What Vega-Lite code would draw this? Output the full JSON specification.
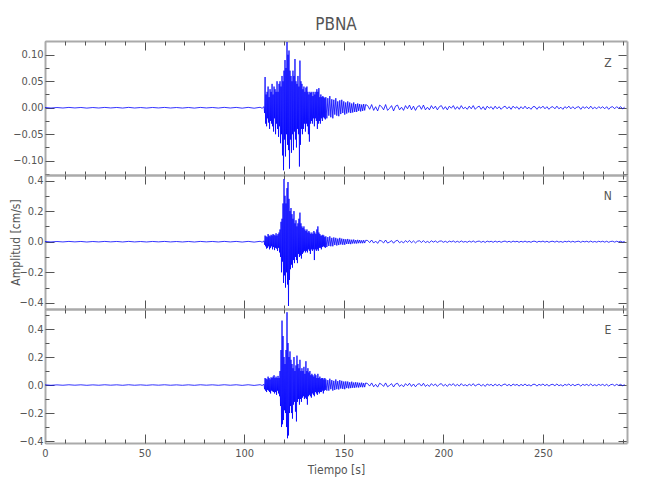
{
"$schema":"https://vega.github.io/schema/vega-lite/v6.json",
"autosize":{"type":"pad"},
"padding":{"left":8,"top":15,"right":10,"bottom":10},
"background":"white",
"title":{"text":"PBNA","fontSize":17,"font":"DejaVu Sans Condensed, Liberation Sans Narrow, DejaVu Sans","fontWeight":"normal","color":"#555","anchor":"middle","frame":"group","offset":7},
"config":{"view":{"stroke":null},"axis":{"grid":false,"domainColor":"#aaaaaa","domainWidth":2,"tickColor":"#555","tickWidth":1,"labelFont":"DejaVu Sans Condensed, Liberation Sans Narrow, DejaVu Sans","labelFontSize":11,"labelColor":"#555","labelPadding":2,"labelFlush":false,"titleFont":"DejaVu Sans Condensed, Liberation Sans Narrow, DejaVu Sans","titleFontSize":12,"titleFontWeight":"normal","titleColor":"#555"},"text":{"font":"DejaVu Sans Condensed, Liberation Sans Narrow, DejaVu Sans"}},
"spacing":0,
"bounds":"flush",
"datasets":{
"Z":[{"t":0,"v":0.0005},{"t":3,"v":-0.0006},{"t":6,"v":0.0004},{"t":9,"v":-0.0005},{"t":12,"v":0.0006},{"t":15,"v":-0.0004},{"t":18,"v":0.0005},{"t":21,"v":-0.0007},{"t":24,"v":0.0004},{"t":27,"v":-0.0005},{"t":30,"v":0.0006},{"t":33,"v":-0.0004},{"t":36,"v":0.0005},{"t":39,"v":-0.0006},{"t":42,"v":0.0007},{"t":45,"v":-0.0005},{"t":48,"v":0.0004},{"t":51,"v":-0.0006},{"t":54,"v":0.0005},{"t":57,"v":-0.0004},{"t":60,"v":0.0006},{"t":63,"v":-0.0005},{"t":66,"v":0.0004},{"t":69,"v":-0.0006},{"t":72,"v":0.0005},{"t":75,"v":-0.0007},{"t":78,"v":0.0006},{"t":81,"v":-0.0004},{"t":84,"v":0.0005},{"t":87,"v":-0.0006},{"t":90,"v":0.0007},{"t":93,"v":-0.0005},{"t":96,"v":0.0006},{"t":99,"v":-0.0008},{"t":102,"v":0.0007},{"t":105,"v":-0.0009},{"t":108,"v":0.0008},{"t":109,"v":-0.001},
{"t":110,"v":0.002},{"t":110.25,"v":-0.01},{"t":110.5,"v":0.058},{"t":110.75,"v":-0.03},{"t":111,"v":0.025},{"t":111.25,"v":-0.035},{"t":111.5,"v":0.03},{"t":111.75,"v":-0.02},{"t":112,"v":0.04},{"t":112.25,"v":-0.028},{"t":112.5,"v":0.02},{"t":112.75,"v":-0.04},{"t":113,"v":0.035},{"t":113.25,"v":-0.025},{"t":113.5,"v":0.03},{"t":113.75,"v":-0.03},{"t":114,"v":0.045},{"t":114.25,"v":-0.035},{"t":114.5,"v":0.025},{"t":114.75,"v":-0.045},{"t":115,"v":0.04},{"t":115.25,"v":-0.02},{"t":115.5,"v":0.035},{"t":115.75,"v":-0.05},{"t":116,"v":0.03},{"t":116.25,"v":-0.03},{"t":116.5,"v":0.05},{"t":116.75,"v":-0.04},{"t":117,"v":0.03},{"t":117.25,"v":-0.055},{"t":117.5,"v":0.045},{"t":117.75,"v":-0.035},{"t":118,"v":0.05},{"t":118.25,"v":-0.067},{"t":118.5,"v":0.04},{"t":118.75,"v":-0.05},{"t":119,"v":0.06},{"t":119.25,"v":-0.09},{"t":119.5,"v":0.05},{"t":119.75,"v":-0.118},{"t":120,"v":0.07},{"t":120.25,"v":-0.06},{"t":120.5,"v":0.09},{"t":120.75,"v":-0.092},{"t":121,"v":0.075},{"t":121.25,"v":-0.05},{"t":121.5,"v":0.124},{"t":121.75,"v":-0.07},{"t":122,"v":0.1},{"t":122.25,"v":-0.08},{"t":122.5,"v":0.108},{"t":122.75,"v":-0.115},{"t":123,"v":0.07},{"t":123.25,"v":-0.06},{"t":123.5,"v":0.06},{"t":123.75,"v":-0.085},{"t":124,"v":0.05},{"t":124.25,"v":-0.05},{"t":124.5,"v":0.07},{"t":124.75,"v":-0.08},{"t":125,"v":0.06},{"t":125.25,"v":-0.045},{"t":125.5,"v":0.092},{"t":125.75,"v":-0.06},{"t":126,"v":0.05},{"t":126.25,"v":-0.075},{"t":126.5,"v":0.045},{"t":126.75,"v":-0.04},{"t":127,"v":0.06},{"t":127.25,"v":-0.05},{"t":127.5,"v":0.04},{"t":127.75,"v":-0.111},{"t":128,"v":0.089},{"t":128.25,"v":-0.07},{"t":128.5,"v":0.05},{"t":128.75,"v":-0.04},{"t":129,"v":0.045},{"t":129.25,"v":-0.05},{"t":129.5,"v":0.035},{"t":129.75,"v":-0.04},{"t":130,"v":0.04},{"t":130.25,"v":-0.03},{"t":130.5,"v":0.03},{"t":130.75,"v":-0.045},{"t":131,"v":0.038},{"t":131.25,"v":-0.03},{"t":131.5,"v":0.04},{"t":131.75,"v":-0.035},{"t":132,"v":0.03},{"t":132.25,"v":-0.05},{"t":132.5,"v":0.025},{"t":132.75,"v":-0.064},{"t":133,"v":0.03},{"t":133.25,"v":-0.03},{"t":133.5,"v":0.028},{"t":133.75,"v":-0.025},{"t":134,"v":0.03},{"t":134.25,"v":-0.03},{"t":134.5,"v":0.022},{"t":134.75,"v":-0.02},{"t":135,"v":0.03},{"t":135.25,"v":-0.035},{"t":135.5,"v":0.025},{"t":135.75,"v":-0.02},{"t":136,"v":0.03},{"t":136.25,"v":-0.025},{"t":136.5,"v":0.035},{"t":136.75,"v":-0.04},{"t":137,"v":0.03},{"t":137.25,"v":-0.03},{"t":137.5,"v":0.037},{"t":137.75,"v":-0.025},{"t":138,"v":0.02},{"t":138.25,"v":-0.03},{"t":138.5,"v":0.025},{"t":138.75,"v":-0.02},{"t":139,"v":0.02},{"t":139.25,"v":-0.025},{"t":139.5,"v":0.022},{"t":139.75,"v":-0.018},{"t":140,"v":0.02},{"t":140.25,"v":-0.02},{"t":140.5,"v":0.018},{"t":140.75,"v":-0.022},{"t":141,"v":0.02},
{"t":141.5,"v":-0.02},{"t":142,"v":0.018},{"t":142.5,"v":-0.015},{"t":143,"v":0.022},{"t":143.5,"v":-0.018},{"t":144,"v":0.016},{"t":144.5,"v":-0.02},{"t":145,"v":0.015},{"t":145.5,"v":-0.013},{"t":146,"v":0.018},{"t":146.5,"v":-0.015},{"t":147,"v":0.012},{"t":147.5,"v":-0.016},{"t":148,"v":0.014},{"t":148.5,"v":-0.012},{"t":149,"v":0.015},{"t":149.5,"v":-0.01},{"t":150,"v":0.012},{"t":150.5,"v":-0.013},{"t":151,"v":0.01},{"t":151.5,"v":-0.011},{"t":152,"v":0.012},{"t":152.5,"v":-0.009},{"t":153,"v":0.01},{"t":153.5,"v":-0.01},{"t":154,"v":0.008},{"t":154.5,"v":-0.009},{"t":155,"v":0.01},{"t":155.5,"v":-0.008},{"t":156,"v":0.007},{"t":156.5,"v":-0.008},{"t":157,"v":0.008},{"t":157.5,"v":-0.006},{"t":158,"v":0.007},{"t":158.5,"v":-0.007},{"t":159,"v":0.006},{"t":159.5,"v":-0.006},{"t":160,"v":0.007},{"t":160.5,"v":-0.005},{"t":161,"v":0.006},
{"t":162,"v":0.004},{"t":163,"v":-0.003},{"t":164,"v":0.006},{"t":165,"v":-0.005},{"t":166,"v":0.002},{"t":167,"v":-0.006},{"t":168,"v":0.005},{"t":169,"v":0.002},{"t":170,"v":-0.004},{"t":171,"v":0.006},{"t":172,"v":-0.005},{"t":173,"v":-0.001},{"t":174,"v":0.004},{"t":175,"v":-0.006},{"t":176,"v":0.003},{"t":177,"v":0.005},{"t":178,"v":-0.004},{"t":179,"v":0.001},{"t":180,"v":-0.005},{"t":181,"v":0.004},{"t":182,"v":-0.002},{"t":183,"v":0.005},{"t":184,"v":-0.004},{"t":185,"v":0.003},{"t":186,"v":-0.005},{"t":187,"v":0.002},{"t":188,"v":0.004},{"t":189,"v":-0.003},{"t":190,"v":0.005},{"t":191,"v":-0.004},{"t":192,"v":0.001},{"t":193,"v":-0.004},{"t":194,"v":0.004},{"t":195,"v":-0.002},{"t":196,"v":0.003},{"t":197,"v":-0.004},{"t":198,"v":0.002},{"t":199,"v":0.004},{"t":200,"v":-0.003},
{"t":201,"v":0.002},{"t":202,"v":-0.004},{"t":203,"v":0.003},{"t":204,"v":-0.001},{"t":205,"v":0.004},{"t":206,"v":-0.003},{"t":207,"v":0.002},{"t":208,"v":-0.003},{"t":209,"v":0.004},{"t":210,"v":-0.002},{"t":211,"v":0.001},{"t":212,"v":-0.003},{"t":213,"v":0.003},{"t":214,"v":-0.002},{"t":215,"v":0.004},{"t":216,"v":-0.003},{"t":217,"v":0.001},{"t":218,"v":0.003},{"t":219,"v":-0.003},{"t":220,"v":0.002},{"t":221,"v":-0.004},{"t":222,"v":0.003},{"t":223,"v":-0.001},{"t":224,"v":0.002},{"t":225,"v":-0.003},{"t":226,"v":0.003},{"t":227,"v":-0.002},{"t":228,"v":0.002},{"t":229,"v":-0.003},{"t":230,"v":0.001},{"t":231,"v":0.003},{"t":232,"v":-0.002},{"t":233,"v":0.002},{"t":234,"v":-0.003},{"t":235,"v":0.003},{"t":236,"v":-0.001},{"t":237,"v":0.002},{"t":238,"v":-0.003},{"t":239,"v":0.002},{"t":240,"v":-0.002},{"t":241,"v":0.003},{"t":242,"v":-0.002},{"t":243,"v":0.001},{"t":244,"v":-0.003},{"t":245,"v":0.002},{"t":246,"v":0.002},{"t":247,"v":-0.003},{"t":248,"v":0.002},{"t":249,"v":-0.001},{"t":250,"v":0.003},{"t":251,"v":-0.002},{"t":252,"v":0.002},{"t":253,"v":-0.003},{"t":254,"v":0.001},{"t":255,"v":0.002},{"t":256,"v":-0.002},{"t":257,"v":0.003},{"t":258,"v":-0.002},{"t":259,"v":0.001},{"t":260,"v":-0.003},{"t":261,"v":0.002},{"t":262,"v":-0.001},{"t":263,"v":0.003},{"t":264,"v":-0.002},{"t":265,"v":0.002},{"t":266,"v":-0.002},{"t":267,"v":0.001},{"t":268,"v":0.002},{"t":269,"v":-0.003},{"t":270,"v":0.002},{"t":271,"v":-0.001},{"t":272,"v":0.002},{"t":273,"v":-0.002},{"t":274,"v":0.003},{"t":275,"v":-0.002},{"t":276,"v":0.001},{"t":277,"v":-0.002},{"t":278,"v":0.002},{"t":279,"v":-0.001},{"t":280,"v":0.002},{"t":281,"v":-0.002},{"t":282,"v":0.002},{"t":283,"v":-0.003},{"t":284,"v":0.001},{"t":285,"v":0.002},{"t":286,"v":-0.002},{"t":287,"v":0.002},{"t":288,"v":-0.001},{"t":289,"v":0.002},{"t":290,"v":-0.002},{"t":291,"v":0.001}],
"N":[{"t":0,"v":0.0015},{"t":3,"v":-0.0018},{"t":6,"v":0.0012},{"t":9,"v":-0.0015},{"t":12,"v":0.0018},{"t":15,"v":-0.0012},{"t":18,"v":0.0015},{"t":21,"v":-0.002},{"t":24,"v":0.0012},{"t":27,"v":-0.0015},{"t":30,"v":0.0018},{"t":33,"v":-0.0012},{"t":36,"v":0.0015},{"t":39,"v":-0.0018},{"t":42,"v":0.002},{"t":45,"v":-0.0015},{"t":48,"v":0.0012},{"t":51,"v":-0.0018},{"t":54,"v":0.0015},{"t":57,"v":-0.0012},{"t":60,"v":0.0018},{"t":63,"v":-0.0015},{"t":66,"v":0.0012},{"t":69,"v":-0.0018},{"t":72,"v":0.0015},{"t":75,"v":-0.002},{"t":78,"v":0.0018},{"t":81,"v":-0.0012},{"t":84,"v":0.0015},{"t":87,"v":-0.0018},{"t":90,"v":0.002},{"t":93,"v":-0.0015},{"t":96,"v":0.0018},{"t":99,"v":-0.0024},{"t":102,"v":0.002},{"t":105,"v":-0.0027},{"t":108,"v":0.0024},{"t":109,"v":-0.003},
{"t":110,"v":0.005},{"t":110.25,"v":-0.02},{"t":110.5,"v":0.04},{"t":110.75,"v":-0.03},{"t":111,"v":0.035},{"t":111.25,"v":-0.045},{"t":111.5,"v":0.03},{"t":111.75,"v":-0.04},{"t":112,"v":0.05},{"t":112.25,"v":-0.03},{"t":112.5,"v":0.04},{"t":112.75,"v":-0.05},{"t":113,"v":0.035},{"t":113.25,"v":-0.04},{"t":113.5,"v":0.045},{"t":113.75,"v":-0.03},{"t":114,"v":0.04},{"t":114.25,"v":-0.05},{"t":114.5,"v":0.05},{"t":114.75,"v":-0.035},{"t":115,"v":0.045},{"t":115.25,"v":-0.055},{"t":115.5,"v":0.04},{"t":115.75,"v":-0.04},{"t":116,"v":0.055},{"t":116.25,"v":-0.045},{"t":116.5,"v":0.04},{"t":116.75,"v":-0.06},{"t":117,"v":0.05},{"t":117.25,"v":-0.04},{"t":117.5,"v":0.06},{"t":117.75,"v":-0.07},{"t":118,"v":0.08},{"t":118.25,"v":-0.1},{"t":118.5,"v":0.13},{"t":118.75,"v":-0.2},{"t":119,"v":0.15},{"t":119.25,"v":-0.13},{"t":119.5,"v":0.25},{"t":119.75,"v":-0.27},{"t":120,"v":0.41},{"t":120.25,"v":-0.22},{"t":120.5,"v":0.3},{"t":120.75,"v":-0.3},{"t":121,"v":0.25},{"t":121.25,"v":-0.2},{"t":121.5,"v":0.35},{"t":121.75,"v":-0.28},{"t":122,"v":0.39},{"t":122.25,"v":-0.42},{"t":122.5,"v":0.28},{"t":122.75,"v":-0.25},{"t":123,"v":0.2},{"t":123.25,"v":-0.18},{"t":123.5,"v":0.22},{"t":123.75,"v":-0.15},{"t":124,"v":0.18},{"t":124.25,"v":-0.17},{"t":124.5,"v":0.15},{"t":124.75,"v":-0.12},{"t":125,"v":0.2},{"t":125.25,"v":-0.14},{"t":125.5,"v":0.12},{"t":125.75,"v":-0.1},{"t":126,"v":0.14},{"t":126.25,"v":-0.12},{"t":126.5,"v":0.1},{"t":126.75,"v":-0.14},{"t":127,"v":0.12},{"t":127.25,"v":-0.08},{"t":127.5,"v":0.15},{"t":127.75,"v":-0.1},{"t":128,"v":0.19},{"t":128.25,"v":-0.09},{"t":128.5,"v":0.12},{"t":128.75,"v":-0.11},{"t":129,"v":0.1},{"t":129.25,"v":-0.08},{"t":129.5,"v":0.09},{"t":129.75,"v":-0.07},{"t":130,"v":0.1},{"t":130.25,"v":-0.06},{"t":130.5,"v":0.08},{"t":130.75,"v":-0.07},{"t":131,"v":0.07},{"t":131.25,"v":-0.06},{"t":131.5,"v":0.08},{"t":131.75,"v":-0.07},{"t":132,"v":0.06},{"t":132.25,"v":-0.05},{"t":132.5,"v":0.07},{"t":132.75,"v":-0.06},{"t":133,"v":0.06},{"t":133.25,"v":-0.08},{"t":133.5,"v":0.05},{"t":133.75,"v":-0.05},{"t":134,"v":0.06},{"t":134.25,"v":-0.06},{"t":134.5,"v":0.05},{"t":134.75,"v":-0.05},{"t":135,"v":0.07},{"t":135.25,"v":-0.12},{"t":135.5,"v":0.06},{"t":135.75,"v":-0.05},{"t":136,"v":0.05},{"t":136.25,"v":-0.06},{"t":136.5,"v":0.08},{"t":136.75,"v":-0.05},{"t":137,"v":0.1},{"t":137.25,"v":-0.06},{"t":137.5,"v":0.06},{"t":137.75,"v":-0.04},{"t":138,"v":0.05},{"t":138.25,"v":-0.04},{"t":138.5,"v":0.04},{"t":138.75,"v":-0.05},{"t":139,"v":0.04},{"t":139.25,"v":-0.035},{"t":139.5,"v":0.045},{"t":139.75,"v":-0.03},{"t":140,"v":0.04},{"t":140.25,"v":-0.035},{"t":140.5,"v":0.03},{"t":140.75,"v":-0.04},{"t":141,"v":0.035},
{"t":141.5,"v":-0.035},{"t":142,"v":0.03},{"t":142.5,"v":-0.028},{"t":143,"v":0.035},{"t":143.5,"v":-0.03},{"t":144,"v":0.025},{"t":144.5,"v":-0.03},{"t":145,"v":0.028},{"t":145.5,"v":-0.022},{"t":146,"v":0.025},{"t":146.5,"v":-0.025},{"t":147,"v":0.02},{"t":147.5,"v":-0.022},{"t":148,"v":0.025},{"t":148.5,"v":-0.018},{"t":149,"v":0.02},{"t":149.5,"v":-0.02},{"t":150,"v":0.018},{"t":150.5,"v":-0.02},{"t":151,"v":0.016},{"t":151.5,"v":-0.015},{"t":152,"v":0.018},{"t":152.5,"v":-0.015},{"t":153,"v":0.014},{"t":153.5,"v":-0.016},{"t":154,"v":0.013},{"t":154.5,"v":-0.012},{"t":155,"v":0.014},{"t":155.5,"v":-0.012},{"t":156,"v":0.011},{"t":156.5,"v":-0.012},{"t":157,"v":0.012},{"t":157.5,"v":-0.01},{"t":158,"v":0.011},{"t":158.5,"v":-0.01},{"t":159,"v":0.009},{"t":159.5,"v":-0.01},{"t":160,"v":0.01},{"t":160.5,"v":-0.009},{"t":161,"v":0.009},
{"t":162,"v":0.008},{"t":163,"v":-0.006},{"t":164,"v":0.011},{"t":165,"v":-0.009},{"t":166,"v":0.004},{"t":167,"v":-0.011},{"t":168,"v":0.009},{"t":169,"v":0.004},{"t":170,"v":-0.008},{"t":171,"v":0.011},{"t":172,"v":-0.009},{"t":173,"v":-0.002},{"t":174,"v":0.007},{"t":175,"v":-0.01},{"t":176,"v":0.005},{"t":177,"v":0.009},{"t":178,"v":-0.007},{"t":179,"v":0.002},{"t":180,"v":-0.008},{"t":181,"v":0.007},{"t":182,"v":-0.004},{"t":183,"v":0.008},{"t":184,"v":-0.007},{"t":185,"v":0.005},{"t":186,"v":-0.008},{"t":187,"v":0.003},{"t":188,"v":0.006},{"t":189,"v":-0.005},{"t":190,"v":0.007},{"t":191,"v":-0.006},{"t":192,"v":0.002},{"t":193,"v":-0.006},{"t":194,"v":0.006},{"t":195,"v":-0.003},{"t":196,"v":0.005},{"t":197,"v":-0.005},{"t":198,"v":0.003},{"t":199,"v":0.005},{"t":200,"v":-0.004},
{"t":201,"v":0.003},{"t":202,"v":-0.005},{"t":203,"v":0.004},{"t":204,"v":-0.0015},{"t":205,"v":0.005},{"t":206,"v":-0.004},{"t":207,"v":0.003},{"t":208,"v":-0.004},{"t":209,"v":0.005},{"t":210,"v":-0.003},{"t":211,"v":0.0015},{"t":212,"v":-0.004},{"t":213,"v":0.004},{"t":214,"v":-0.003},{"t":215,"v":0.005},{"t":216,"v":-0.004},{"t":217,"v":0.0015},{"t":218,"v":0.004},{"t":219,"v":-0.004},{"t":220,"v":0.003},{"t":221,"v":-0.005},{"t":222,"v":0.004},{"t":223,"v":-0.0015},{"t":224,"v":0.003},{"t":225,"v":-0.004},{"t":226,"v":0.004},{"t":227,"v":-0.003},{"t":228,"v":0.003},{"t":229,"v":-0.004},{"t":230,"v":0.0015},{"t":231,"v":0.004},{"t":232,"v":-0.003},{"t":233,"v":0.003},{"t":234,"v":-0.004},{"t":235,"v":0.004},{"t":236,"v":-0.0015},{"t":237,"v":0.003},{"t":238,"v":-0.004},{"t":239,"v":0.003},{"t":240,"v":-0.003},{"t":241,"v":0.004},{"t":242,"v":-0.003},{"t":243,"v":0.0015},{"t":244,"v":-0.004},{"t":245,"v":0.003},{"t":246,"v":0.003},{"t":247,"v":-0.004},{"t":248,"v":0.003},{"t":249,"v":-0.0015},{"t":250,"v":0.004},{"t":251,"v":-0.003},{"t":252,"v":0.003},{"t":253,"v":-0.004},{"t":254,"v":0.0015},{"t":255,"v":0.003},{"t":256,"v":-0.003},{"t":257,"v":0.004},{"t":258,"v":-0.003},{"t":259,"v":0.0015},{"t":260,"v":-0.004},{"t":261,"v":0.003},{"t":262,"v":-0.0015},{"t":263,"v":0.004},{"t":264,"v":-0.003},{"t":265,"v":0.003},{"t":266,"v":-0.003},{"t":267,"v":0.0015},{"t":268,"v":0.003},{"t":269,"v":-0.004},{"t":270,"v":0.003},{"t":271,"v":-0.0015},{"t":272,"v":0.003},{"t":273,"v":-0.003},{"t":274,"v":0.004},{"t":275,"v":-0.003},{"t":276,"v":0.0015},{"t":277,"v":-0.003},{"t":278,"v":0.003},{"t":279,"v":-0.0015},{"t":280,"v":0.003},{"t":281,"v":-0.003},{"t":282,"v":0.003},{"t":283,"v":-0.004},{"t":284,"v":0.0015},{"t":285,"v":0.003},{"t":286,"v":-0.003},{"t":287,"v":0.003},{"t":288,"v":-0.0015},{"t":289,"v":0.003},{"t":290,"v":-0.003},{"t":291,"v":0.0015}],
"E":[{"t":0,"v":0.0015},{"t":3,"v":-0.0018},{"t":6,"v":0.0012},{"t":9,"v":-0.0015},{"t":12,"v":0.0018},{"t":15,"v":-0.0012},{"t":18,"v":0.0015},{"t":21,"v":-0.002},{"t":24,"v":0.0012},{"t":27,"v":-0.0015},{"t":30,"v":0.0018},{"t":33,"v":-0.0012},{"t":36,"v":0.0015},{"t":39,"v":-0.0018},{"t":42,"v":0.002},{"t":45,"v":-0.0015},{"t":48,"v":0.0012},{"t":51,"v":-0.0018},{"t":54,"v":0.0015},{"t":57,"v":-0.0012},{"t":60,"v":0.0018},{"t":63,"v":-0.0015},{"t":66,"v":0.0012},{"t":69,"v":-0.0018},{"t":72,"v":0.0015},{"t":75,"v":-0.002},{"t":78,"v":0.0018},{"t":81,"v":-0.0012},{"t":84,"v":0.0015},{"t":87,"v":-0.0018},{"t":90,"v":0.002},{"t":93,"v":-0.0015},{"t":96,"v":0.0018},{"t":99,"v":-0.0024},{"t":102,"v":0.002},{"t":105,"v":-0.0027},{"t":108,"v":0.0024},{"t":109,"v":-0.003},
{"t":110,"v":0.005},{"t":110.25,"v":-0.03},{"t":110.5,"v":0.05},{"t":110.75,"v":-0.04},{"t":111,"v":0.045},{"t":111.25,"v":-0.05},{"t":111.5,"v":0.04},{"t":111.75,"v":-0.035},{"t":112,"v":0.06},{"t":112.25,"v":-0.04},{"t":112.5,"v":0.05},{"t":112.75,"v":-0.05},{"t":113,"v":0.04},{"t":113.25,"v":-0.06},{"t":113.5,"v":0.055},{"t":113.75,"v":-0.04},{"t":114,"v":0.05},{"t":114.25,"v":-0.045},{"t":114.5,"v":0.06},{"t":114.75,"v":-0.05},{"t":115,"v":0.07},{"t":115.25,"v":-0.06},{"t":115.5,"v":0.05},{"t":115.75,"v":-0.05},{"t":116,"v":0.06},{"t":116.25,"v":-0.07},{"t":116.5,"v":0.05},{"t":116.75,"v":-0.04},{"t":117,"v":0.065},{"t":117.25,"v":-0.06},{"t":117.5,"v":0.05},{"t":117.75,"v":-0.08},{"t":118,"v":0.1},{"t":118.25,"v":-0.15},{"t":118.5,"v":0.25},{"t":118.75,"v":-0.3},{"t":119,"v":0.46},{"t":119.25,"v":-0.28},{"t":119.5,"v":0.35},{"t":119.75,"v":-0.25},{"t":120,"v":0.2},{"t":120.25,"v":-0.18},{"t":120.5,"v":0.15},{"t":120.75,"v":-0.2},{"t":121,"v":0.25},{"t":121.25,"v":-0.3},{"t":121.5,"v":0.52},{"t":121.75,"v":-0.38},{"t":122,"v":0.3},{"t":122.25,"v":-0.36},{"t":122.5,"v":0.2},{"t":122.75,"v":-0.2},{"t":123,"v":0.24},{"t":123.25,"v":-0.15},{"t":123.5,"v":0.18},{"t":123.75,"v":-0.2},{"t":124,"v":0.15},{"t":124.25,"v":-0.24},{"t":124.5,"v":0.12},{"t":124.75,"v":-0.14},{"t":125,"v":0.2},{"t":125.25,"v":-0.12},{"t":125.5,"v":0.1},{"t":125.75,"v":-0.19},{"t":126,"v":0.14},{"t":126.25,"v":-0.26},{"t":126.5,"v":0.21},{"t":126.75,"v":-0.12},{"t":127,"v":0.15},{"t":127.25,"v":-0.1},{"t":127.5,"v":0.12},{"t":127.75,"v":-0.14},{"t":128,"v":0.18},{"t":128.25,"v":-0.1},{"t":128.5,"v":0.1},{"t":128.75,"v":-0.12},{"t":129,"v":0.12},{"t":129.25,"v":-0.09},{"t":129.5,"v":0.1},{"t":129.75,"v":-0.08},{"t":130,"v":0.13},{"t":130.25,"v":-0.1},{"t":130.5,"v":0.08},{"t":130.75,"v":-0.09},{"t":131,"v":0.17},{"t":131.25,"v":-0.1},{"t":131.5,"v":0.1},{"t":131.75,"v":-0.14},{"t":132,"v":0.12},{"t":132.25,"v":-0.08},{"t":132.5,"v":0.09},{"t":132.75,"v":-0.07},{"t":133,"v":0.1},{"t":133.25,"v":-0.08},{"t":133.5,"v":0.07},{"t":133.75,"v":-0.09},{"t":134,"v":0.08},{"t":134.25,"v":-0.06},{"t":134.5,"v":0.07},{"t":134.75,"v":-0.07},{"t":135,"v":0.06},{"t":135.25,"v":-0.08},{"t":135.5,"v":0.08},{"t":135.75,"v":-0.05},{"t":136,"v":0.07},{"t":136.25,"v":-0.06},{"t":136.5,"v":0.05},{"t":136.75,"v":-0.07},{"t":137,"v":0.08},{"t":137.25,"v":-0.05},{"t":137.5,"v":0.05},{"t":137.75,"v":-0.06},{"t":138,"v":0.06},{"t":138.25,"v":-0.05},{"t":138.5,"v":0.045},{"t":138.75,"v":-0.05},{"t":139,"v":0.05},{"t":139.25,"v":-0.04},{"t":139.5,"v":0.05},{"t":139.75,"v":-0.06},{"t":140,"v":0.04},{"t":140.25,"v":-0.04},{"t":140.5,"v":0.05},{"t":140.75,"v":-0.035},{"t":141,"v":0.04},
{"t":141.5,"v":-0.04},{"t":142,"v":0.035},{"t":142.5,"v":-0.04},{"t":143,"v":0.045},{"t":143.5,"v":-0.03},{"t":144,"v":0.035},{"t":144.5,"v":-0.04},{"t":145,"v":0.03},{"t":145.5,"v":-0.035},{"t":146,"v":0.04},{"t":146.5,"v":-0.03},{"t":147,"v":0.028},{"t":147.5,"v":-0.032},{"t":148,"v":0.035},{"t":148.5,"v":-0.025},{"t":149,"v":0.03},{"t":149.5,"v":-0.028},{"t":150,"v":0.025},{"t":150.5,"v":-0.03},{"t":151,"v":0.026},{"t":151.5,"v":-0.022},{"t":152,"v":0.025},{"t":152.5,"v":-0.024},{"t":153,"v":0.02},{"t":153.5,"v":-0.022},{"t":154,"v":0.024},{"t":154.5,"v":-0.02},{"t":155,"v":0.018},{"t":155.5,"v":-0.02},{"t":156,"v":0.02},{"t":156.5,"v":-0.017},{"t":157,"v":0.018},{"t":157.5,"v":-0.018},{"t":158,"v":0.016},{"t":158.5,"v":-0.015},{"t":159,"v":0.017},{"t":159.5,"v":-0.016},{"t":160,"v":0.014},{"t":160.5,"v":-0.015},{"t":161,"v":0.015},
{"t":162,"v":0.01},{"t":163,"v":-0.0075},{"t":164,"v":0.015},{"t":165,"v":-0.0125},{"t":166,"v":0.005},{"t":167,"v":-0.015},{"t":168,"v":0.0125},{"t":169,"v":0.005},{"t":170,"v":-0.01},{"t":171,"v":0.015},{"t":172,"v":-0.0125},{"t":173,"v":-0.0025},{"t":174,"v":0.01},{"t":175,"v":-0.014},{"t":176,"v":0.0075},{"t":177,"v":0.0125},{"t":178,"v":-0.01},{"t":179,"v":0.0025},{"t":180,"v":-0.0125},{"t":181,"v":0.01},{"t":182,"v":-0.005},{"t":183,"v":0.0125},{"t":184,"v":-0.01},{"t":185,"v":0.0075},{"t":186,"v":-0.0125},{"t":187,"v":0.005},{"t":188,"v":0.01},{"t":189,"v":-0.0075},{"t":190,"v":0.0125},{"t":191,"v":-0.01},{"t":192,"v":0.0025},{"t":193,"v":-0.01},{"t":194,"v":0.01},{"t":195,"v":-0.005},{"t":196,"v":0.0075},{"t":197,"v":-0.01},{"t":198,"v":0.005},{"t":199,"v":0.01},{"t":200,"v":-0.0075},
{"t":201,"v":0.005},{"t":202,"v":-0.01},{"t":203,"v":0.0075},{"t":204,"v":-0.0025},{"t":205,"v":0.01},{"t":206,"v":-0.0075},{"t":207,"v":0.005},{"t":208,"v":-0.0075},{"t":209,"v":0.01},{"t":210,"v":-0.005},{"t":211,"v":0.0025},{"t":212,"v":-0.0075},{"t":213,"v":0.0075},{"t":214,"v":-0.005},{"t":215,"v":0.01},{"t":216,"v":-0.0075},{"t":217,"v":0.0025},{"t":218,"v":0.0075},{"t":219,"v":-0.0075},{"t":220,"v":0.005},{"t":221,"v":-0.01},{"t":222,"v":0.0075},{"t":223,"v":-0.0025},{"t":224,"v":0.005},{"t":225,"v":-0.0075},{"t":226,"v":0.0075},{"t":227,"v":-0.005},{"t":228,"v":0.005},{"t":229,"v":-0.0075},{"t":230,"v":0.0025},{"t":231,"v":0.0075},{"t":232,"v":-0.005},{"t":233,"v":0.005},{"t":234,"v":-0.0075},{"t":235,"v":0.0075},{"t":236,"v":-0.0025},{"t":237,"v":0.005},{"t":238,"v":-0.0075},{"t":239,"v":0.005},{"t":240,"v":-0.005},{"t":241,"v":0.0075},{"t":242,"v":-0.005},{"t":243,"v":0.0025},{"t":244,"v":-0.0075},{"t":245,"v":0.005},{"t":246,"v":0.005},{"t":247,"v":-0.0075},{"t":248,"v":0.005},{"t":249,"v":-0.0025},{"t":250,"v":0.0075},{"t":251,"v":-0.005},{"t":252,"v":0.005},{"t":253,"v":-0.0075},{"t":254,"v":0.0025},{"t":255,"v":0.005},{"t":256,"v":-0.005},{"t":257,"v":0.0075},{"t":258,"v":-0.005},{"t":259,"v":0.0025},{"t":260,"v":-0.0075},{"t":261,"v":0.005},{"t":262,"v":-0.0025},{"t":263,"v":0.0075},{"t":264,"v":-0.005},{"t":265,"v":0.005},{"t":266,"v":-0.005},{"t":267,"v":0.0025},{"t":268,"v":0.005},{"t":269,"v":-0.0075},{"t":270,"v":0.005},{"t":271,"v":-0.0025},{"t":272,"v":0.005},{"t":273,"v":-0.005},{"t":274,"v":0.0075},{"t":275,"v":-0.005},{"t":276,"v":0.0025},{"t":277,"v":-0.005},{"t":278,"v":0.005},{"t":279,"v":-0.0025},{"t":280,"v":0.005},{"t":281,"v":-0.005},{"t":282,"v":0.005},{"t":283,"v":-0.0075},{"t":284,"v":0.0025},{"t":285,"v":0.005},{"t":286,"v":-0.005},{"t":287,"v":0.005},{"t":288,"v":-0.0025},{"t":289,"v":0.005},{"t":290,"v":-0.005},{"t":291,"v":0.0025}]
},
"vconcat":[
{"width":582,"height":134,
 "layer":[
  {"data":{"name":"Z"},"mark":{"type":"line","color":"#0000ff","strokeWidth":0.8,"clip":true},
   "encoding":{"x":{"field":"t","type":"quantitative","scale":{"domain":[0,292.2],"nice":false,"zero":false},"axis":{"orient":"bottom","ticks":false,"labels":false,"title":null}},
    "y":{"field":"v","type":"quantitative","scale":{"domain":[-0.127,0.126],"nice":false,"zero":false},"axis":{"orient":"left","ticks":false,"values":[-0.1,-0.05,0,0.05,0.1],"format":".2f","title":null}}}},
  {"data":{"values":[{"t":282.6,"v":0.085,"lab":"Z"}]},"mark":{"type":"text","fontSize":12,"color":"#555"},
   "encoding":{"text":{"field":"lab"},"x":{"field":"t","type":"quantitative","scale":{"domain":[0,292.2],"nice":false,"zero":false},"axis":{"orient":"bottom","labels":false,"domain":false,"tickSize":-9,"values":[0,50,100,150,200,250],"title":null}},
    "y":{"field":"v","type":"quantitative","scale":{"domain":[-0.127,0.126],"nice":false,"zero":false},"axis":{"orient":"left","labels":false,"domain":false,"tickSize":-9,"values":[-0.1,-0.05,0,0.05,0.1],"title":null}}}},
  {"data":{"values":[{"t":282.6,"v":0.085}]},"mark":{"type":"point","opacity":0},
   "encoding":{"x":{"field":"t","type":"quantitative","scale":{"domain":[0,292.2],"nice":false,"zero":false},"axis":{"orient":"bottom","labels":false,"domain":false,"tickSize":-4,"values":[10,20,30,40,60,70,80,90,110,120,130,140,160,170,180,190,210,220,230,240,260,270,280,290],"title":null}},
    "y":{"field":"v","type":"quantitative","scale":{"domain":[-0.127,0.126],"nice":false,"zero":false},"axis":{"orient":"left","labels":false,"domain":false,"tickSize":-4,"values":[-0.125,-0.075,-0.025,0.025,0.075],"title":null}}}},
  {"data":{"values":[{"t":282.6,"v":0.085}]},"mark":{"type":"point","opacity":0},
   "encoding":{"x":{"field":"t","type":"quantitative","scale":{"domain":[0,292.2],"nice":false,"zero":false},"axis":{"orient":"top","labels":false,"domain":true,"tickSize":-9,"values":[0,50,100,150,200,250],"title":null}},
    "y":{"field":"v","type":"quantitative","scale":{"domain":[-0.127,0.126],"nice":false,"zero":false},"axis":{"orient":"right","labels":false,"domain":true,"tickSize":-9,"values":[-0.1,-0.05,0,0.05,0.1],"title":null}}}},
  {"data":{"values":[{"t":282.6,"v":0.085}]},"mark":{"type":"point","opacity":0},
   "encoding":{"x":{"field":"t","type":"quantitative","scale":{"domain":[0,292.2],"nice":false,"zero":false},"axis":{"orient":"top","labels":false,"domain":false,"tickSize":-4,"values":[10,20,30,40,60,70,80,90,110,120,130,140,160,170,180,190,210,220,230,240,260,270,280,290],"title":null}},
    "y":{"field":"v","type":"quantitative","scale":{"domain":[-0.127,0.126],"nice":false,"zero":false},"axis":{"orient":"right","labels":false,"domain":false,"tickSize":-4,"values":[-0.125,-0.075,-0.025,0.025,0.075],"title":null}}}}
 ],
 "resolve":{"axis":{"x":"independent","y":"independent"}}},
{"width":582,"height":134,
 "layer":[
  {"data":{"name":"N"},"mark":{"type":"line","color":"#0000ff","strokeWidth":0.8,"clip":true},
   "encoding":{"x":{"field":"t","type":"quantitative","scale":{"domain":[0,292.2],"nice":false,"zero":false},"axis":{"orient":"bottom","ticks":false,"labels":false,"title":null}},
    "y":{"field":"v","type":"quantitative","scale":{"domain":[-0.44,0.436],"nice":false,"zero":false},"axis":{"orient":"left","ticks":false,"values":[-0.4,-0.2,0,0.2,0.4],"format":".1f","title":"Amplitud  [cm/s]","titleX":-23,"titleY":67,"titleAngle":-90,"titleBaseline":"bottom","titleAlign":"center"}}}},
  {"data":{"values":[{"t":282.6,"v":0.3,"lab":"N"}]},"mark":{"type":"text","fontSize":12,"color":"#555"},
   "encoding":{"text":{"field":"lab"},"x":{"field":"t","type":"quantitative","scale":{"domain":[0,292.2],"nice":false,"zero":false},"axis":{"orient":"bottom","labels":false,"domain":false,"tickSize":-9,"values":[0,50,100,150,200,250],"title":null}},
    "y":{"field":"v","type":"quantitative","scale":{"domain":[-0.44,0.436],"nice":false,"zero":false},"axis":{"orient":"left","labels":false,"domain":false,"tickSize":-9,"values":[-0.4,-0.2,0,0.2,0.4],"title":null}}}},
  {"data":{"values":[{"t":282.6,"v":0.3}]},"mark":{"type":"point","opacity":0},
   "encoding":{"x":{"field":"t","type":"quantitative","scale":{"domain":[0,292.2],"nice":false,"zero":false},"axis":{"orient":"bottom","labels":false,"domain":false,"tickSize":-4,"values":[10,20,30,40,60,70,80,90,110,120,130,140,160,170,180,190,210,220,230,240,260,270,280,290],"title":null}},
    "y":{"field":"v","type":"quantitative","scale":{"domain":[-0.44,0.436],"nice":false,"zero":false},"axis":{"orient":"left","labels":false,"domain":false,"tickSize":-4,"values":[-0.3,-0.1,0.1,0.3],"title":null}}}},
  {"data":{"values":[{"t":282.6,"v":0.3}]},"mark":{"type":"point","opacity":0},
   "encoding":{"x":{"field":"t","type":"quantitative","scale":{"domain":[0,292.2],"nice":false,"zero":false},"axis":{"orient":"top","labels":false,"domain":true,"tickSize":-9,"values":[0,50,100,150,200,250],"title":null}},
    "y":{"field":"v","type":"quantitative","scale":{"domain":[-0.44,0.436],"nice":false,"zero":false},"axis":{"orient":"right","labels":false,"domain":true,"tickSize":-9,"values":[-0.4,-0.2,0,0.2,0.4],"title":null}}}},
  {"data":{"values":[{"t":282.6,"v":0.3}]},"mark":{"type":"point","opacity":0},
   "encoding":{"x":{"field":"t","type":"quantitative","scale":{"domain":[0,292.2],"nice":false,"zero":false},"axis":{"orient":"top","labels":false,"domain":false,"tickSize":-4,"values":[10,20,30,40,60,70,80,90,110,120,130,140,160,170,180,190,210,220,230,240,260,270,280,290],"title":null}},
    "y":{"field":"v","type":"quantitative","scale":{"domain":[-0.44,0.436],"nice":false,"zero":false},"axis":{"orient":"right","labels":false,"domain":false,"tickSize":-4,"values":[-0.3,-0.1,0.1,0.3],"title":null}}}}
 ],
 "resolve":{"axis":{"x":"independent","y":"independent"}}},
{"width":582,"height":134,
 "layer":[
  {"data":{"name":"E"},"mark":{"type":"line","color":"#0000ff","strokeWidth":0.8,"clip":true},
   "encoding":{"x":{"field":"t","type":"quantitative","scale":{"domain":[0,292.2],"nice":false,"zero":false},"axis":{"orient":"bottom","ticks":false,"labels":true,"values":[0,50,100,150,200,250],"labelPadding":4,"title":"Tiempo  [s]","titlePadding":6}},
    "y":{"field":"v","type":"quantitative","scale":{"domain":[-0.414,0.543],"nice":false,"zero":false},"axis":{"orient":"left","ticks":false,"values":[-0.4,-0.2,0,0.2,0.4],"format":".1f","title":null}}}},
  {"data":{"values":[{"t":282.6,"v":0.39,"lab":"E"}]},"mark":{"type":"text","fontSize":12,"color":"#555"},
   "encoding":{"text":{"field":"lab"},"x":{"field":"t","type":"quantitative","scale":{"domain":[0,292.2],"nice":false,"zero":false},"axis":{"orient":"bottom","labels":false,"domain":false,"tickSize":-9,"values":[0,50,100,150,200,250],"title":null}},
    "y":{"field":"v","type":"quantitative","scale":{"domain":[-0.414,0.543],"nice":false,"zero":false},"axis":{"orient":"left","labels":false,"domain":false,"tickSize":-9,"values":[-0.4,-0.2,0,0.2,0.4],"title":null}}}},
  {"data":{"values":[{"t":282.6,"v":0.39}]},"mark":{"type":"point","opacity":0},
   "encoding":{"x":{"field":"t","type":"quantitative","scale":{"domain":[0,292.2],"nice":false,"zero":false},"axis":{"orient":"bottom","labels":false,"domain":false,"tickSize":-4,"values":[10,20,30,40,60,70,80,90,110,120,130,140,160,170,180,190,210,220,230,240,260,270,280,290],"title":null}},
    "y":{"field":"v","type":"quantitative","scale":{"domain":[-0.414,0.543],"nice":false,"zero":false},"axis":{"orient":"left","labels":false,"domain":false,"tickSize":-4,"values":[-0.3,-0.1,0.1,0.3,0.5],"title":null}}}},
  {"data":{"values":[{"t":282.6,"v":0.39}]},"mark":{"type":"point","opacity":0},
   "encoding":{"x":{"field":"t","type":"quantitative","scale":{"domain":[0,292.2],"nice":false,"zero":false},"axis":{"orient":"top","labels":false,"domain":true,"tickSize":-9,"values":[0,50,100,150,200,250],"title":null}},
    "y":{"field":"v","type":"quantitative","scale":{"domain":[-0.414,0.543],"nice":false,"zero":false},"axis":{"orient":"right","labels":false,"domain":true,"tickSize":-9,"values":[-0.4,-0.2,0,0.2,0.4],"title":null}}}},
  {"data":{"values":[{"t":282.6,"v":0.39}]},"mark":{"type":"point","opacity":0},
   "encoding":{"x":{"field":"t","type":"quantitative","scale":{"domain":[0,292.2],"nice":false,"zero":false},"axis":{"orient":"top","labels":false,"domain":false,"tickSize":-4,"values":[10,20,30,40,60,70,80,90,110,120,130,140,160,170,180,190,210,220,230,240,260,270,280,290],"title":null}},
    "y":{"field":"v","type":"quantitative","scale":{"domain":[-0.414,0.543],"nice":false,"zero":false},"axis":{"orient":"right","labels":false,"domain":false,"tickSize":-4,"values":[-0.3,-0.1,0.1,0.3,0.5],"title":null}}}}
 ],
 "resolve":{"axis":{"x":"independent","y":"independent"}}}
]
}
